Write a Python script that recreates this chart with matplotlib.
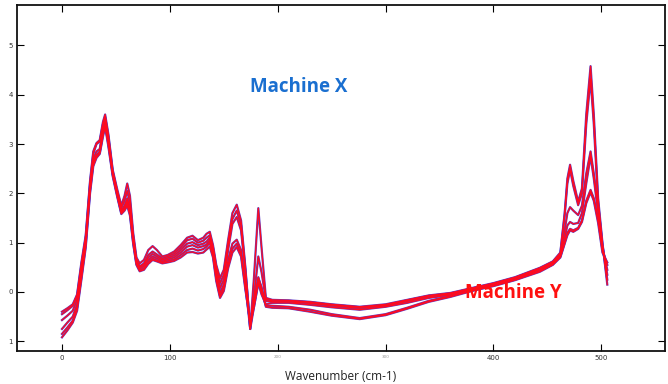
import matplotlib
matplotlib.use("Agg")
import matplotlib.pyplot as plt

wavenumber = [0, 5, 10, 14, 18, 22, 26, 29, 32, 35, 38, 40, 43, 47, 51, 55, 58, 60.5, 63, 66, 69, 72,
              76, 80, 84, 88, 93, 98, 104, 110, 116, 121, 126, 131, 134, 137, 140, 143, 146.5, 150,
              154, 158, 162, 166, 170, 174.5, 178, 182, 185, 189, 195, 210, 230, 250, 276, 300, 320,
              340, 360, 380, 400, 420, 443, 455, 462, 466, 468.5, 471, 474, 478.5, 482, 486, 490,
              493, 497, 501, 505.5]

spec_1 = [-0.40, -0.33, -0.25, -0.05, 0.60, 1.15, 2.25, 2.85, 3.02, 3.08, 3.45, 3.60, 3.20, 2.48, 2.10,
          1.75, 1.95, 2.20, 1.95, 1.20, 0.70, 0.58, 0.65, 0.85, 0.93, 0.85, 0.72, 0.75, 0.82, 0.95,
          1.10, 1.14, 1.05, 1.10, 1.18, 1.22, 0.95, 0.55, 0.28, 0.45, 1.05, 1.60, 1.77, 1.45, 0.50,
          -0.75, 0.30, 1.70, 0.90, -0.12, -0.16, -0.17, -0.20, -0.25, -0.30, -0.25, -0.16, -0.07,
          -0.02, 0.08, 0.18, 0.30, 0.49, 0.62, 0.80, 1.60, 2.30, 2.58, 2.25, 1.83, 2.10, 3.60, 4.58,
          3.60, 1.90, 1.00, 0.15]
spec_2 = [-0.45, -0.37, -0.28, -0.08, 0.55, 1.10, 2.20, 2.80, 3.00, 3.05, 3.40, 3.55, 3.15, 2.45, 2.05,
          1.70, 1.85, 2.05, 1.80, 1.12, 0.65, 0.52, 0.58, 0.75, 0.82, 0.76, 0.68, 0.72, 0.78, 0.90,
          1.05, 1.08, 1.00, 1.04, 1.10, 1.15, 0.90, 0.50, 0.18, 0.35, 0.95, 1.48, 1.65, 1.35, 0.45,
          -0.75, -0.10, 0.72, 0.40, -0.15, -0.18, -0.18, -0.21, -0.26, -0.31, -0.27, -0.17, -0.08,
          -0.03, 0.07, 0.17, 0.29, 0.48, 0.61, 0.78, 1.55, 2.20, 2.48, 2.15, 1.76, 2.00, 3.40, 4.32,
          3.40, 1.80, 0.95, 0.25]
spec_3 = [-0.57, -0.48, -0.38, -0.15, 0.45, 1.05, 2.15, 2.70, 2.85, 2.90, 3.30, 3.48, 3.10, 2.42, 2.02,
          1.65, 1.75, 1.90, 1.70, 1.08, 0.62, 0.50, 0.55, 0.70, 0.77, 0.72, 0.65, 0.69, 0.74, 0.85,
          0.98, 1.01, 0.95, 0.98, 1.02, 1.10, 0.85, 0.42, 0.08, 0.25, 0.85, 1.38, 1.52, 1.25, 0.40,
          -0.70, -0.20, 0.30, 0.05, -0.18, -0.20, -0.20, -0.23, -0.28, -0.33, -0.28, -0.19, -0.10,
          -0.04, 0.06, 0.16, 0.28, 0.47, 0.60, 0.76, 1.25, 1.60, 1.72, 1.65, 1.56, 1.75, 2.40, 2.85,
          2.40, 1.75, 0.95, 0.35]
spec_4 = [-0.75, -0.62, -0.50, -0.25, 0.40, 1.00, 2.10, 2.65, 2.78, 2.85, 3.25, 3.42, 3.05, 2.40, 2.00,
          1.62, 1.72, 1.85, 1.65, 1.05, 0.60, 0.47, 0.52, 0.65, 0.72, 0.68, 0.62, 0.66, 0.70, 0.80,
          0.92, 0.95, 0.90, 0.93, 0.96, 1.05, 0.80, 0.35, -0.02, 0.15, 0.65, 0.98, 1.06, 0.85, 0.15,
          -0.75, -0.30, 0.18, -0.05, -0.25, -0.22, -0.22, -0.26, -0.31, -0.36, -0.30, -0.22, -0.12,
          -0.06, 0.05, 0.15, 0.27, 0.45, 0.58, 0.74, 1.10, 1.35, 1.42, 1.38, 1.40, 1.60, 2.20, 2.75,
          2.30, 1.60, 0.90, 0.45]
spec_5 = [-0.85, -0.72, -0.58, -0.32, 0.30, 0.95, 2.05, 2.60, 2.75, 2.82, 3.20, 3.38, 3.00, 2.38, 1.98,
          1.60, 1.68, 1.80, 1.60, 1.00, 0.57, 0.44, 0.48, 0.60, 0.68, 0.64, 0.60, 0.63, 0.66, 0.75,
          0.85, 0.88, 0.84, 0.87, 0.92, 1.00, 0.75, 0.28, -0.08, 0.08, 0.55, 0.88, 0.98, 0.78, 0.10,
          -0.65, -0.30, 0.20, 0.00, -0.28, -0.28, -0.30, -0.36, -0.45, -0.53, -0.45, -0.32, -0.18,
          -0.08, 0.03, 0.13, 0.25, 0.43, 0.56, 0.72, 1.00, 1.20, 1.28, 1.25, 1.30, 1.45, 1.85, 2.07,
          1.90, 1.50, 0.85, 0.55]
spec_6 = [-0.92, -0.78, -0.62, -0.38, 0.25, 0.90, 2.00, 2.55, 2.72, 2.80, 3.15, 3.35, 2.95, 2.35, 1.95,
          1.58, 1.65, 1.75, 1.55, 0.98, 0.55, 0.42, 0.45, 0.57, 0.65, 0.62, 0.58, 0.60, 0.63, 0.70,
          0.80, 0.81, 0.78, 0.80, 0.86, 0.92, 0.70, 0.22, -0.12, 0.02, 0.48, 0.80, 0.91, 0.72, 0.05,
          -0.60, -0.25, 0.28, 0.10, -0.30, -0.32, -0.33, -0.40, -0.48, -0.55, -0.47, -0.34, -0.20,
          -0.10, 0.02, 0.12, 0.24, 0.41, 0.55, 0.70, 0.98, 1.15, 1.25, 1.22, 1.28, 1.42, 1.80, 2.02,
          1.85, 1.40, 0.80, 0.60]

spectra = [spec_1, spec_2, spec_3, spec_4, spec_5, spec_6]

x_ticks = [0, 100, 200, 300, 400, 500]
x_tick_labels = ["0", "100", "200", "300", "400", "500"]
y_ticks = [5, 4, 3, 2, 1, 0, -1]
y_tick_labels = ["5", "4", "3", "2", "1", "0", "1"]

fig = plt.figure(figsize=(6.68, 3.84), dpi=100)
ax = fig.add_axes([17 / 668, 1 - 351 / 384, (665 - 17) / 668, (351 - 5) / 384])

for s in spectra:
    ax.plot(wavenumber, s, color="#5a3cc8", lw=1.6, solid_joinstyle="round")
for s in spectra:
    ax.plot(wavenumber, s, color="#ff0a1e", lw=0.9, solid_joinstyle="round")

ax.set_xlim(-41.7, 559)
ax.set_ylim(-1.197, 5.82)

ax.set_xticks(x_ticks)
ax.set_xticklabels(x_tick_labels, fontsize=5, color="#333333")
for lbl in ax.get_xticklabels()[2:4]:
    lbl.set_fontsize(3)
    lbl.set_color("#999999")
ax.set_yticks(y_ticks)
ax.set_yticklabels(y_tick_labels, fontsize=5, color="#333333")

ax.tick_params(axis="both", direction="in", length=5, width=0.8, top=True, right=True, pad=3)
for sp in ax.spines.values():
    sp.set_linewidth(1.3)
    sp.set_color("#111111")

ax.set_xlabel("Wavenumber (cm-1)", fontsize=8.5, family="Open Sans", color="#222222", labelpad=6)

ax.text(219, 4.16, "Machine X", color="#1a6fd0", fontsize=13.5, fontweight="bold",
        family="Open Sans", ha="center", va="center")
ax.text(418, -0.02, "Machine Y", color="#ff1010", fontsize=13.5, fontweight="bold",
        family="Open Sans", ha="center", va="center")

fig.savefig("out.png", dpi=100)
